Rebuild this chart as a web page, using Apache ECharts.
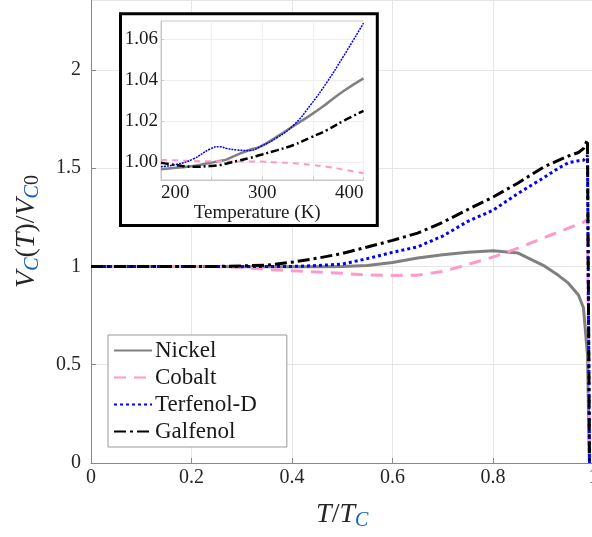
<!DOCTYPE html>
<html>
<head>
<meta charset="utf-8">
<script src="https://cdn.jsdelivr.net/npm/echarts@6/dist/echarts.min.js"></script>
<style>
html,body{margin:0;padding:0;background:#fff;}
#chart{width:592px;height:537px;}
</style>
</head>
<body>
<div id="chart"></div>
<script>
// ---- Main plot data (T/Tc) ----
var mainT = [0, 0.1, 0.2, 0.25, 0.3, 0.35, 0.4, 0.45, 0.5, 0.55, 0.6, 0.65, 0.7, 0.75, 0.8, 0.85, 0.9, 0.93, 0.95, 0.97, 0.98, 0.988, 0.992];
var nickel    = [1, 1, 1, 1, 0.999, 0.998, 0.998, 0.999, 1.0, 1.005, 1.02, 1.043, 1.06, 1.073, 1.08, 1.068, 1.006, 0.955, 0.915, 0.855, 0.79, 0.55, 0];
var cobalt    = [1, 1, 1, 1, 0.995, 0.985, 0.978, 0.972, 0.965, 0.957, 0.954, 0.956, 0.975, 1.01, 1.048, 1.093, 1.145, 1.175, 1.195, 1.215, 1.225, 1.24, 0];
var terfenol  = [1, 1, 1, 1, 1, 1.0, 1.0, 1.005, 1.012, 1.04, 1.072, 1.1, 1.155, 1.23, 1.286, 1.372, 1.45, 1.5, 1.528, 1.538, 1.54, 1.565, 0];
var galfenol  = [1, 1, 1, 1, 1.003, 1.007, 1.022, 1.042, 1.066, 1.099, 1.133, 1.17, 1.225, 1.29, 1.353, 1.425, 1.505, 1.54, 1.562, 1.58, 1.6, 1.645, 0];

// ---- Inset data (Temperature, K) ----
var insetT = [200, 215, 232, 248, 258, 265, 275, 288, 298, 315, 331, 348, 364, 380, 400];
var insetNickel   = [0.9964, 0.9972, 0.998, 0.9995, 1.0005, 1.0013, 1.0035, 1.006, 1.0075, 1.0125, 1.0176, 1.023, 1.0286, 1.0345, 1.0408];
var insetCobalt   = [1.001, 1.0008, 1.0005, 1.0004, 1.0004, 1.0003, 1.0003, 1.0002, 1.0002, 0.9998, 0.9994, 0.9986, 0.9977, 0.9963, 0.9945];
var insetTerfenol = [0.9977, 0.9988, 1.0015, 1.0062, 1.0075, 1.0066, 1.0059, 1.0056, 1.0075, 1.012, 1.018, 1.028, 1.039, 1.0514, 1.0677];
var insetGalfenol = [0.9997, 0.9985, 0.9977, 0.998, 0.9985, 0.9993, 1.0005, 1.002, 1.0034, 1.0058, 1.0083, 1.012, 1.0156, 1.02, 1.0249];

var seriesNames = ['Nickel', 'Cobalt', 'Terfenol-D', 'Galfenol'];
var yTicksInset = [1.00, 1.02, 1.04, 1.06];

function pairs(xs, ys) { return xs.map(function (x, i) { return [x, ys[i]]; }); }

var FONT = 'Liberation Serif';
var styles = [
  {color: '#808080', width: 3, type: 'solid'},
  {color: '#ff99cc', width: 3, type: [12, 8]},
  {color: '#0000ff', width: 3, type: [3, 3]},
  {color: '#000000', width: 3, type: [12, 4, 3, 4]}
];
var insetStyles = [
  {color: '#808080', width: 2.5, type: 'solid'},
  {color: '#ff99cc', width: 2, type: [6, 5]},
  {color: '#0000ff', width: 1.5, type: [2, 1]},
  {color: '#000000', width: 2.5, type: [8, 3, 2, 3]}
];
var mainData = [nickel, cobalt, terfenol, galfenol];
var insetData = [insetNickel, insetCobalt, insetTerfenol, insetGalfenol];

var series = [];
mainData.forEach(function (d, i) {
  series.push({
    name: seriesNames[i], type: 'line', xAxisIndex: 0, yAxisIndex: 0,
    data: pairs(mainT, d), showSymbol: false, symbol: 'none', smooth: false,
    lineStyle: styles[i], itemStyle: {color: styles[i].color}, z: 2, animation: false
  });
});
insetData.forEach(function (d, i) {
  series.push({
    name: seriesNames[i] + ' (inset)', type: 'line', xAxisIndex: 1, yAxisIndex: 1,
    data: pairs(insetT, d), showSymbol: false, symbol: 'none', smooth: true,
    lineStyle: insetStyles[i], itemStyle: {color: insetStyles[i].color}, z: 12, animation: false
  });
});

var richMain = {
  i: {fontFamily: FONT, fontStyle: 'italic', fontSize: 28, color: '#262626', lineHeight: 32, verticalAlign: 'middle'},
  n: {fontFamily: FONT, fontSize: 28, color: '#262626', lineHeight: 32, verticalAlign: 'middle'},
  sub: {fontFamily: FONT, fontStyle: 'italic', fontSize: 20, color: '#1060c0', lineHeight: 24, verticalAlign: 'bottom', padding: [11, 0, 0, 0]},
  sub0: {fontFamily: FONT, fontSize: 20, color: '#262626', lineHeight: 24, verticalAlign: 'bottom', padding: [11, 0, 0, 0]}
};

var chart = echarts.init(document.getElementById('chart'), null, {renderer: 'canvas'});
chart.setOption({
  animation: false,
  backgroundColor: '#fff',
  grid: [
    {left: 91, top: 0, right: -1.5, bottom: 74, containLabel: false, outerBoundsMode: 'none'},
    {left: 161, top: 21, width: 202.5, height: 159, show: true, borderColor: '#c8c8c8', borderWidth: 1, backgroundColor: '#fff', z: 11, outerBoundsMode: 'none'}
  ],
  xAxis: [
    {
      type: 'value', gridIndex: 0, min: 0, max: 1, interval: 0.2,
      name: '{i|T}{n|/}{i|T}{sub|C}', nameLocation: 'middle', nameGap: 36,
      nameTextStyle: {rich: richMain},
      axisLine: {show: true, lineStyle: {color: '#888', width: 1}},
      axisTick: {show: true, inside: true, length: 5, lineStyle: {color: '#888'}},
      axisLabel: {fontFamily: FONT, fontSize: 20, color: '#262626', margin: 5,
        formatter: function (v) { return String(Math.round(v * 10) / 10); }},
      splitLine: {show: true, lineStyle: {color: '#e6e6e6', width: 1}}
    },
    {
      type: 'value', gridIndex: 1, min: 200, max: 400, interval: 50, z: 12,
      name: 'Temperature (K)', nameLocation: 'middle', nameGap: 21,
      nameTextStyle: {fontFamily: FONT, fontSize: 19, color: '#1a1a1a', padding: [0, 10, 0, 0]},
      axisLine: {show: true, lineStyle: {color: '#c8c8c8'}},
      axisTick: {show: true, inside: true, length: 3, lineStyle: {color: '#c8c8c8'}},
      axisLabel: {fontFamily: FONT, fontSize: 19, color: '#1a1a1a', margin: 4,
        alignMinLabel: 'left', alignMaxLabel: 'right',
        formatter: function (v) { return (v % 100 === 0) ? String(v) : ''; }},
      splitLine: {show: true, lineStyle: {color: '#eeeeee', width: 1}}
    }
  ],
  yAxis: [
    {
      type: 'value', gridIndex: 0, min: 0, max: 2.356, interval: 0.5,
      name: '{i|V}{sub|C}{n|(}{i|T}{n|)/}{i|V}{sub|C}{sub0|0}', nameLocation: 'middle', nameGap: 48, nameRotate: 90,
      nameTextStyle: {rich: richMain},
      axisLine: {show: true, lineStyle: {color: '#888', width: 1}},
      axisTick: {show: true, inside: true, length: 5, lineStyle: {color: '#888'}},
      axisLabel: {fontFamily: FONT, fontSize: 20, color: '#262626', margin: 10, showMaxLabel: false,
        formatter: function (v) { return String(Math.round(v * 10) / 10); }},
      splitLine: {show: true, lineStyle: {color: '#e6e6e6', width: 1}}
    },
    {
      type: 'value', gridIndex: 1, min: 0.99122, max: 1.06878, z: 12,
      axisLine: {show: true, lineStyle: {color: '#c8c8c8'}},
      axisTick: {show: true, inside: true, length: 3, customValues: yTicksInset, lineStyle: {color: '#c8c8c8'}},
      axisLabel: {fontFamily: FONT, fontSize: 19, color: '#1a1a1a', margin: 3, customValues: yTicksInset,
        formatter: function (v) { return v.toFixed(2); }},
      splitLine: {show: true, lineStyle: {color: '#eeeeee', width: 1}}
    }
  ],
  legend: {
    data: seriesNames, orient: 'vertical', left: 108, top: 335,
    padding: [4, 30, 4, 5], itemGap: 4, itemWidth: 38, itemHeight: 14,
    backgroundColor: '#fff', borderColor: '#999', borderWidth: 1, z: 8,
    itemStyle: {opacity: 0, borderWidth: 0},
    textStyle: {fontFamily: FONT, fontSize: 23, color: '#1a1a1a', lineHeight: 23, padding: [0, 0, 0, -2]}
  },
  graphic: [
    {type: 'rect', z: 9, shape: {x: 120.5, y: 13.8, width: 256.8, height: 211.7},
     style: {fill: '#fff', stroke: '#000', lineWidth: 3}}
  ],
  series: series
});
</script>
</body>
</html>
